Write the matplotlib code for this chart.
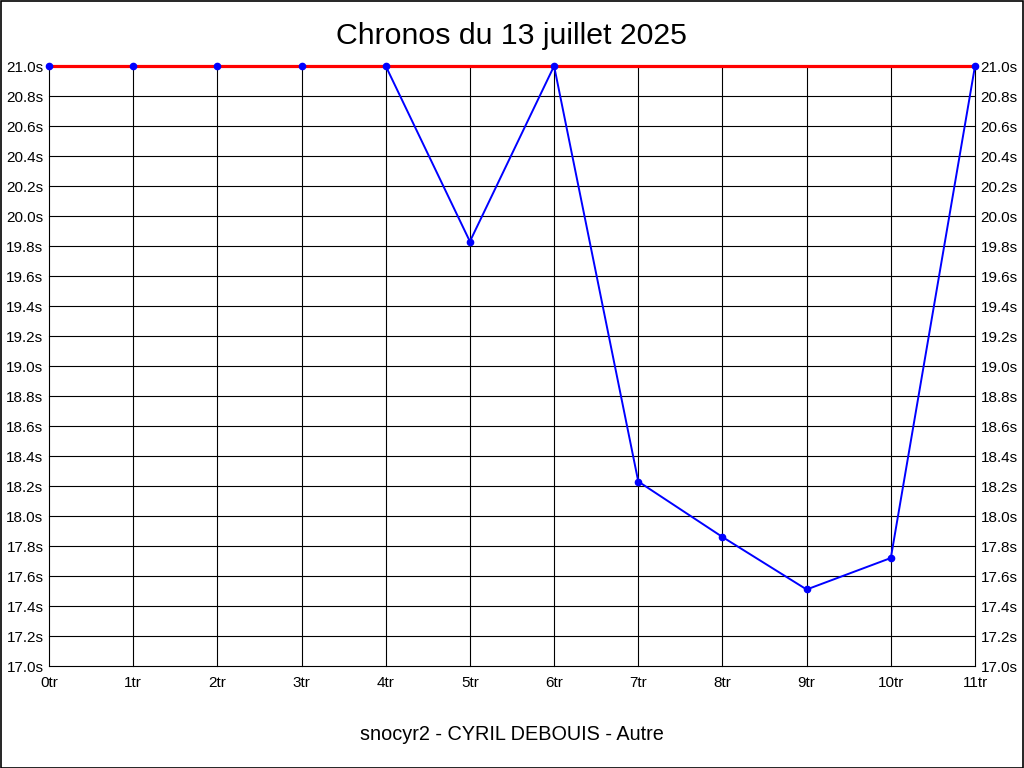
"""
Chronos du 13 juillet 2025 - temps au tour.
"""

import matplotlib

matplotlib.use("Agg")
import matplotlib.pyplot as plt
from matplotlib.patches import Rectangle

# -------------------------------------------------------------------
# Data
# -------------------------------------------------------------------

LAPS = ["0tr", "1tr", "2tr", "3tr", "4tr", "5tr", "6tr", "7tr", "8tr", "9tr", "10tr", "11tr"]
CHRONOS = [21.0, 21.0, 21.0, 21.0, 21.0, 19.83, 21.0, 18.23, 17.86, 17.51, 17.72, 21.0]
REFERENCE = 21.0
Y_TICKS = [17.0 + 0.2 * i for i in range(21)]

TITLE = "Chronos du 13 juillet 2025"
SUBTITLE = "snocyr2 - CYRIL DEBOUIS - Autre"

plt.rcParams["font.family"] = ["Liberation Sans", "DejaVu Sans"]

# -------------------------------------------------------------------
# Figure
# -------------------------------------------------------------------

W, H = 1024, 768
fig = plt.figure(figsize=(W / 100, H / 100), dpi=100)
ax = fig.add_axes([49 / W, (H - 666) / H, (975 - 49) / W, (666 - 66) / H])

x = list(range(len(LAPS)))

# grid acts as the frame
for xi in x:
    ax.axvline(xi, color="black", lw=0.8, zorder=1, clip_on=False)
for yv in Y_TICKS:
    ax.axhline(yv, color="black", lw=0.8, zorder=1, clip_on=False)

ax.plot(x, CHRONOS, color="#0000ff", lw=1.4, zorder=2, clip_on=False)
ax.axhline(REFERENCE, color="#ff0000", lw=2.3, zorder=3, clip_on=False)
ax.plot(x, CHRONOS, linestyle="none", marker="o", markersize=4.5,
        color="#0000ff", zorder=4, clip_on=False)

ax.set_xlim(0, len(LAPS) - 1)
ax.set_ylim(17.0, 21.0)
ax.set_xticks(x)
ax.set_xticklabels(LAPS)
ax.set_yticks(Y_TICKS)
ax.set_yticklabels([f"{v:.1f}s" for v in Y_TICKS])
ax.tick_params(axis="both", length=0, labelsize=11, colors="black")
ax.tick_params(axis="x", pad=7)
ax.tick_params(axis="y", pad=4, labelright=True)
for s in ax.spines.values():
    s.set_visible(False)

fig.text(0.5, (H - 36) / H, TITLE, ha="center", va="center", fontsize=21.8)
fig.text(0.5, (H - 735) / H, SUBTITLE, ha="center", va="center", fontsize=14.3)

# outer border
fig.patches.append(Rectangle((0.5 / W, 0.5 / H), (W - 1.5) / W, (H - 1.5) / H,
                             transform=fig.transFigure, fill=False,
                             edgecolor="black", lw=1.2))

fig.savefig("out.png", dpi=100)
